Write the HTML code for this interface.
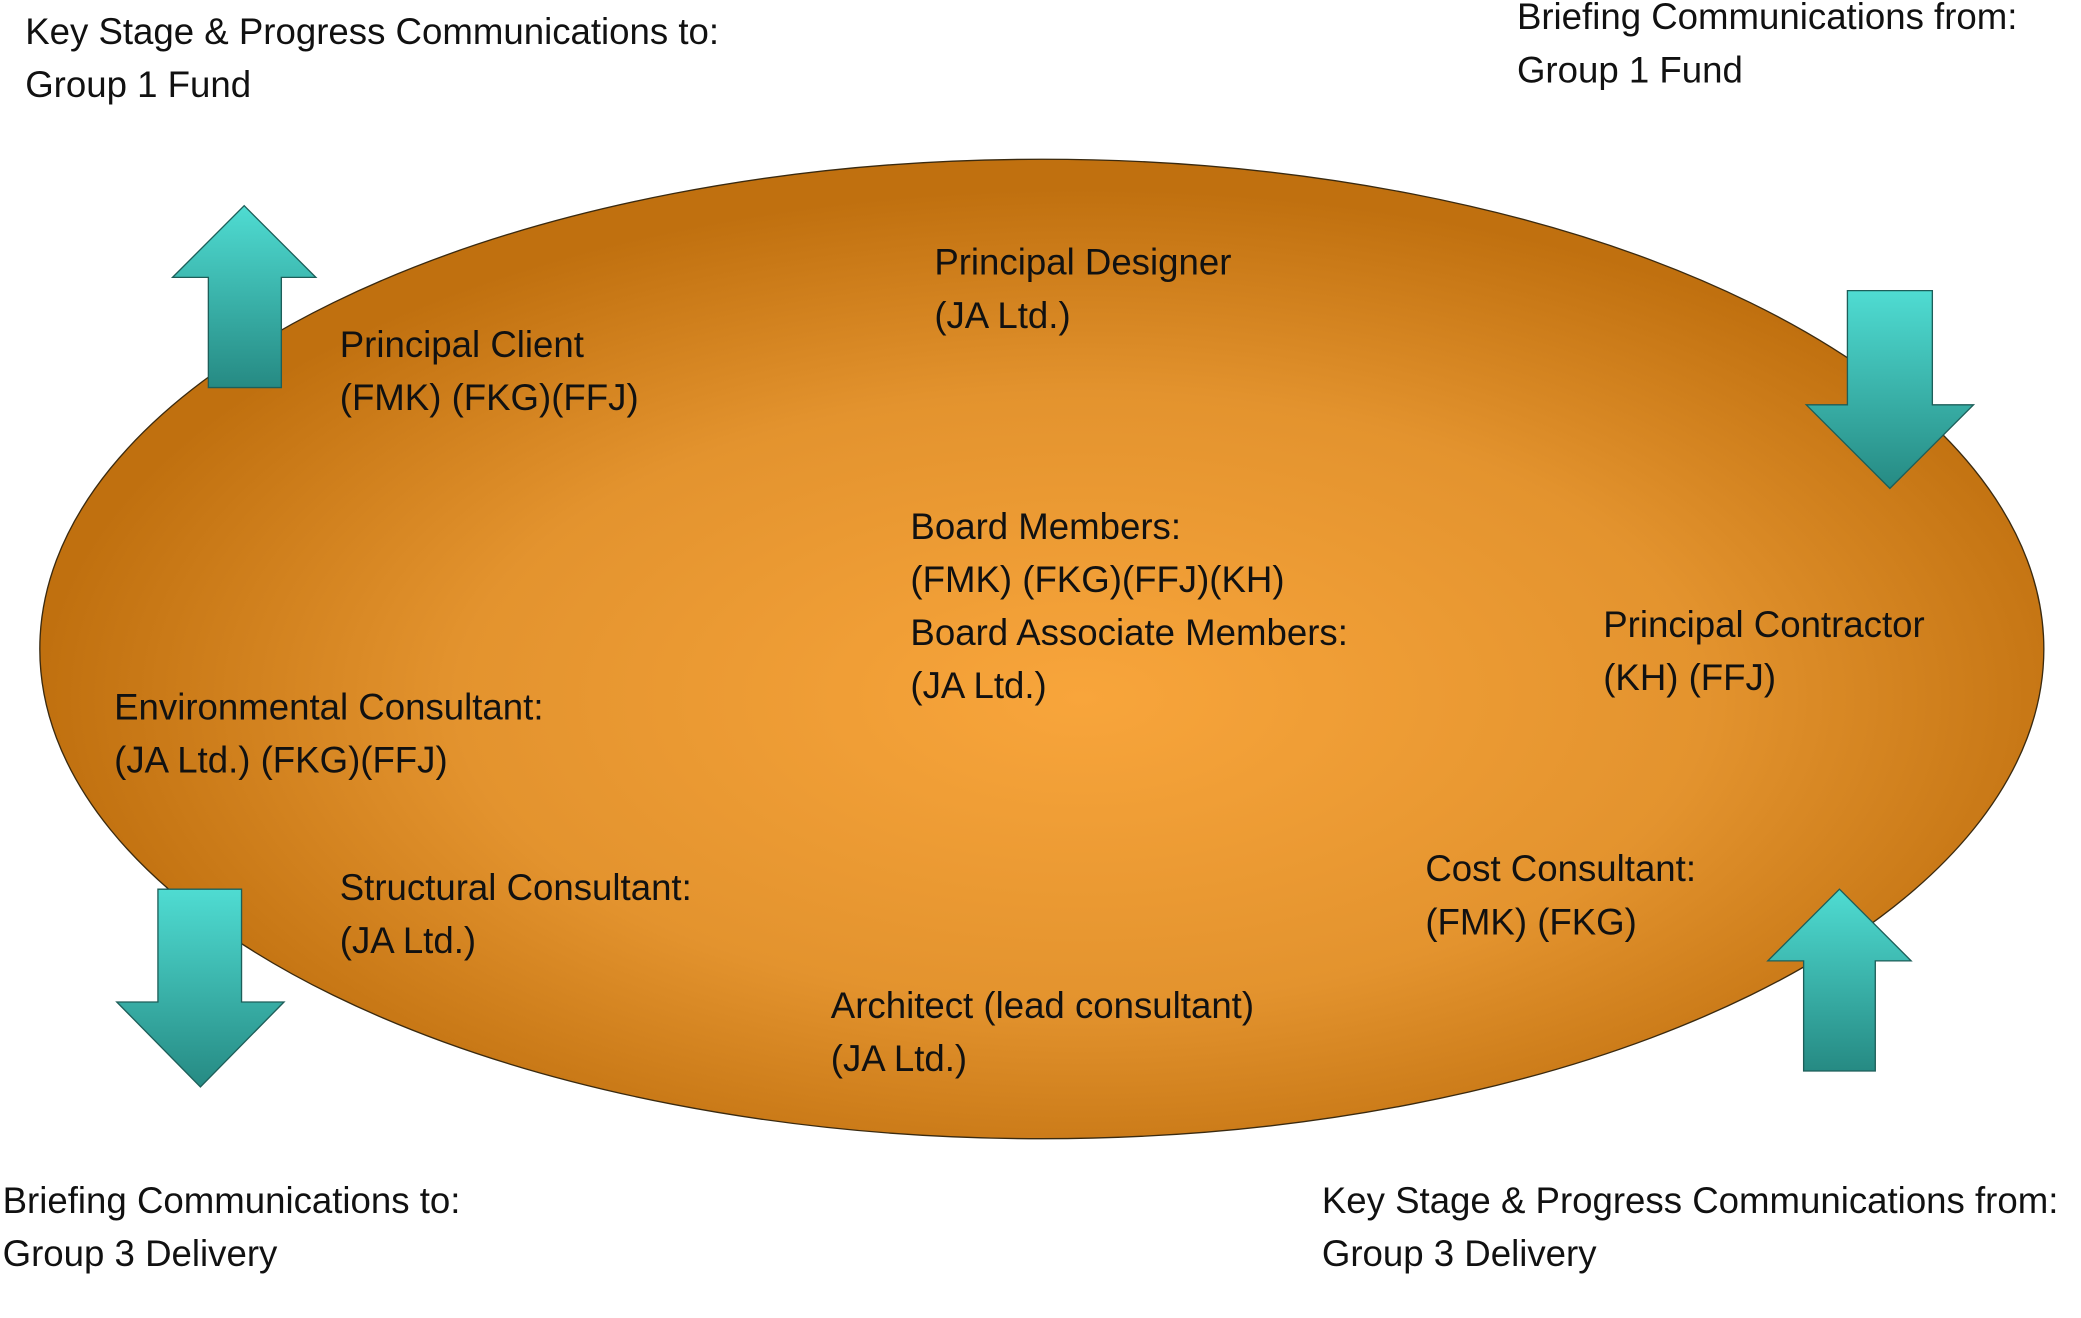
<!DOCTYPE html>
<html><head><meta charset="utf-8"><style>
html,body{margin:0;padding:0;background:#fff;}
svg{display:block;}
text{font-family:"Liberation Sans",sans-serif;font-size:27.6px;fill:#111;}
</style></head><body>
<svg width="2081" height="1318" viewBox="0 0 1568 993.1" preserveAspectRatio="none" xmlns="http://www.w3.org/2000/svg">
<defs>
<radialGradient id="eg" cx="0.52" cy="0.55" r="0.52">
<stop offset="0" stop-color="#f8a53b"/>
<stop offset="0.6" stop-color="#e3932e"/>
<stop offset="1" stop-color="#c0700f"/>
</radialGradient>
<linearGradient id="ag" x1="0" y1="0" x2="0" y2="1">
<stop offset="0" stop-color="#4fdcd2"/>
<stop offset="1" stop-color="#268a83"/>
</linearGradient>
</defs>
<rect width="1568" height="993.1" fill="#fff"/>
<ellipse cx="785" cy="489" rx="755" ry="369" fill="url(#eg)" stroke="#3a2a10" stroke-width="1"/>
<g fill="url(#ag)" stroke="#1d5e59" stroke-width="1">
<polygon points="184,155 238,209 212,209 212,292 157,292 157,209 130,209"/>
<polygon points="1392,219 1456,219 1456,305 1487,305 1424,368 1361,305 1392,305"/>
<polygon points="119,670 182,670 182,755 214,755 151,819 88,755 119,755"/>
<polygon points="1386,670 1440,724 1413,724 1413,807 1359,807 1359,724 1332,724"/>
</g>
<text x="19" y="33">Key Stage &amp; Progress Communications to:</text>
<text x="19" y="73">Group 1 Fund</text>
<text x="1143" y="22">Briefing Communications from:</text>
<text x="1143" y="62">Group 1 Fund</text>
<text x="704" y="207">Principal Designer</text>
<text x="704" y="247">(JA Ltd.)</text>
<text x="256" y="269">Principal Client</text>
<text x="256" y="309">(FMK) (FKG)(FFJ)</text>
<text x="686" y="406">Board Members:</text>
<text x="686" y="446">(FMK) (FKG)(FFJ)(KH)</text>
<text x="686" y="486">Board Associate Members:</text>
<text x="686" y="526">(JA Ltd.)</text>
<text x="1208" y="480">Principal Contractor</text>
<text x="1208" y="520">(KH) (FFJ)</text>
<text x="86" y="542">Environmental Consultant:</text>
<text x="86" y="582">(JA Ltd.) (FKG)(FFJ)</text>
<text x="256" y="678">Structural Consultant:</text>
<text x="256" y="718">(JA Ltd.)</text>
<text x="1074" y="664">Cost Consultant:</text>
<text x="1074" y="704">(FMK) (FKG)</text>
<text x="626" y="767">Architect (lead consultant)</text>
<text x="626" y="807">(JA Ltd.)</text>
<text x="2" y="914">Briefing Communications to:</text>
<text x="2" y="954">Group 3 Delivery</text>
<text x="996" y="914">Key Stage &amp; Progress Communications from:</text>
<text x="996" y="954">Group 3 Delivery</text>
</svg>
</body></html>
